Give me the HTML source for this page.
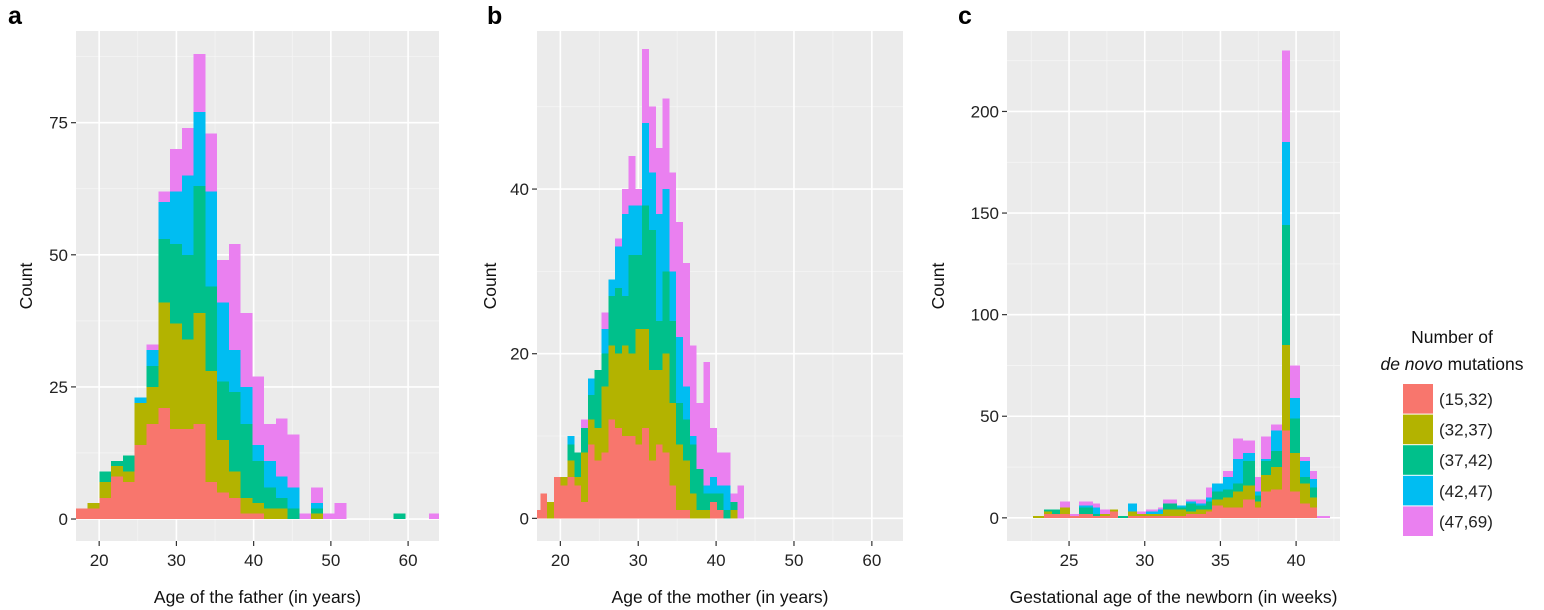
<!DOCTYPE html>
<html><head><meta charset="utf-8"><style>
html,body{margin:0;padding:0;background:#fff;}
svg{display:block;font-family:"Liberation Sans",Arial,sans-serif;}
</style></head><body>
<svg id="chart" width="1544" height="610" viewBox="0 0 1544 610" xmlns="http://www.w3.org/2000/svg">
<g id="root"></g>
</svg>
<script>
// ---- Panel a: father age (31 bins) ----
const aBinStart = 16.99, aBinWidth = 1.523;
const aRed   = [2,2,4,8,7,14,18,21,17,17,18,7,5,4,1,1,0,0,0,0,0,0,0,0,0,0,0,0,0,0,0];
const aOlive = [0,1,3,2,2,8,7,20,20,17,21,21,10,5,3,2,2,2,0,0,1,0,0,0,0,0,0,0,0,0,0];
const aGreen = [0,0,2,1,3,0,4,12,15,16,24,16,11,15,14,8,4,2,2,0,1,0,0,0,0,0,0,1,0,0,0];
const aBlue  = [0,0,0,0,0,1,3,7,10,15,14,18,15,8,7,3,5,4,4,0,1,0,0,0,0,0,0,0,0,0,0];
const aPink  = [0,0,0,0,0,0,1,2,8,9,11,11,8,20,14,13,7,11,10,1,3,1,3,0,0,0,0,0,0,0,1];
// ---- Panel b: mother age (31 bins) ----
const bBinStart = 16.56, bBinWidth = 0.872;
const bRed   = [1,3,0,5,4,5,4,2,9,7,8,12,11,10,10,9,11,7,9,8,4,1,1,0,0,0,2,1,0,0,0];
const bOlive = [0,0,2,0,1,2,1,6,3,4,8,9,9,11,10,14,12,11,9,12,10,8,6,3,1,1,0,0,0,1,0];
const bGreen = [0,0,0,0,0,2,3,3,3,7,4,6,8,6,12,9,15,17,6,10,10,5,5,6,5,2,1,2,1,1,0];
const bBlue  = [0,0,0,0,0,1,0,0,2,0,3,2,5,10,6,6,10,7,13,10,6,8,4,1,0,1,2,1,3,0,0];
const bPink  = [0,0,0,0,0,0,0,1,0,0,2,0,1,3,6,2,9,8,8,11,12,14,15,11,8,15,6,4,4,1,4];
// ---- Panel c: gestational age (variable bins, weeks) ----
const cEdges = [22.63,23.36,23.88,24.41,25.07,25.67,26.59,27.05,27.72,28.24,28.90,29.50,30.09,30.89,31.22,32.14,32.74,33.39,34.05,34.45,35.17,35.84,36.50,37.29,37.69,38.35,39.07,39.60,40.26,40.92,41.39,42.25];
const cRed   = [0,2,2,2,1,2,1,1,3,0,1,1,1,1,1,1,2,2,3,6,5,5,9,5,13,14,43,13,7,5,0];
const cOlive = [1,1,0,3,0,0,0,1,1,0,2,1,1,1,3,3,1,2,1,3,5,8,7,3,8,11,42,19,10,5,0];
const cGreen = [0,1,2,0,0,3,1,0,0,1,0,0,0,0,3,1,4,2,4,4,4,4,12,3,7,8,59,17,3,5,0];
const cBlue  = [0,0,0,0,0,1,3,0,0,0,4,0,1,2,0,1,1,1,2,4,6,12,4,2,1,10,41,10,8,4,0];
const cPink  = [0,0,0,3,1,2,2,2,0,0,0,1,1,1,2,0,1,2,5,0,3,10,6,7,11,3,45,16,2,4,1];
// ---- Axes ----
const abTicksX = [20,30,40,50,60];
const aTicksY = [0,25,50,75];
const bTicksY = [0,20,40];
const cTicksX = [25,30,35,40];
const cTicksY = [0,50,100,150,200];
const legendLabels = ["(15,32)","(32,37)","(37,42)","(42,47)","(47,69)"];
const colors = ["#F8766D","#B3B300","#00C08B","#00BDF2","#EA80F0"];

const NS = "http://www.w3.org/2000/svg";
const root = document.getElementById('root');
function el(tag, attrs, parent, text){
  const e = document.createElementNS(NS, tag);
  for (const k in attrs) e.setAttribute(k, attrs[k]);
  if (text !== undefined) e.textContent = text;
  (parent||root).appendChild(e);
  return e;
}
function panel(cfg){
  const g = el('g', {});
  
  
  const sx = v => cfg.x0 + (v - cfg.xd[0]) / (cfg.xd[1]-cfg.xd[0]) * (cfg.x1-cfg.x0);
  const sy = v => cfg.y1 - (v - cfg.yd[0]) / (cfg.yd[1]-cfg.yd[0]) * (cfg.y1-cfg.y0);
  const bg = el('rect', {x:cfg.x0, y:cfg.y0, width:cfg.x1-cfg.x0, height:cfg.y1-cfg.y0, fill:'#EBEBEB'}, g);
  
  
  // minor grid
  const mx = [], my = [];
  for (let i=0;i<cfg.tx.length-1;i++) mx.push((cfg.tx[i]+cfg.tx[i+1])/2);
  if (cfg.extraMinorX) cfg.extraMinorX.forEach(v=>mx.push(v));
  for (let i=0;i<cfg.ty.length;i++){ const st = cfg.ty[1]-cfg.ty[0]; my.push(cfg.ty[i]+st/2); }
  mx.forEach(v=>{ const X=sx(v); if(X>cfg.x0&&X<cfg.x1){ const l=el('line',{x1:X,x2:X,y1:cfg.y0,y2:cfg.y1,stroke:'#F5F5F5','stroke-width':0.8},g);
     }});
  my.forEach(v=>{ const Y=sy(v); if(Y>cfg.y0&&Y<cfg.y1){ const l=el('line',{x1:cfg.x0,x2:cfg.x1,y1:Y,y2:Y,stroke:'#F5F5F5','stroke-width':0.8},g);
     }});
  cfg.tx.forEach(v=>{ const X=sx(v); const l=el('line',{x1:X,x2:X,y1:cfg.y0,y2:cfg.y1,stroke:'#fff','stroke-width':1.6},g);
     });
  cfg.ty.forEach(v=>{ const Y=sy(v); const l=el('line',{x1:cfg.x0,x2:cfg.x1,y1:Y,y2:Y,stroke:'#fff','stroke-width':1.6},g);
     });
  // bars
  const cg = el('g', {'clip-path':'url(#clip-'+cfg.id+')', 'shape-rendering':'crispEdges'}, g);
  
  
  const cp = el('clipPath', {id:'clip-'+cfg.id}, g);
  el('rect',{x:cfg.x0,y:cfg.y0,width:cfg.x1-cfg.x0,height:cfg.y1-cfg.y0},cp);
  const n = cfg.series[0].length;
  for (let i=0;i<n;i++){
    const left = cfg.edges[i], right = cfg.edges[i+1];
    let cum = 0;
    for (let s=0;s<cfg.series.length;s++){
      const v = cfg.series[s][i];
      if (v<=0) continue;
      const yTop = sy(cum+v), yBot = sy(cum);
      const r = el('rect',{x:sx(left), y:yTop, width:sx(right)-sx(left), height:yBot-yTop, fill:colors[s]}, cg);
      
      
      cum += v;
    }
  }
  // ticks + labels
  cfg.ty.forEach(v=>{ const Y=sy(v);
    const t=el('line',{x1:cfg.x0-5,x2:cfg.x0,y1:Y,y2:Y,stroke:'#333','stroke-width':1.2},g);
     
    const tl=el('text',{x:cfg.x0-8,y:Y+6,'text-anchor':'end','font-size':17,fill:'#222'},g,String(v));
     
  });
  cfg.tx.forEach(v=>{ const X=sx(v);
    const t=el('line',{x1:X,x2:X,y1:cfg.y1,y2:cfg.y1+5,stroke:'#333','stroke-width':1.2},g);
     
    const tl=el('text',{x:X,y:cfg.y1+25,'text-anchor':'middle','font-size':17,fill:'#222'},g,String(v));
     
  });
  const xt = el('text',{x:(cfg.x0+cfg.x1)/2,y:603,'text-anchor':'middle','font-size':17.5,fill:'#111'},g,cfg.xtitle);
   
  const yt = el('text',{x:0,y:0,'text-anchor':'middle','font-size':17.5,fill:'#111',transform:'translate('+cfg.ytx+',286) rotate(-90)'},g,'Count');
   
  const pl = el('text',{x:cfg.lx,y:24,'font-size':25,'font-weight':'bold',fill:'#000'},g,cfg.letter);
   
}
function edgesFrom(start,width,n){ const e=[]; for(let i=0;i<=n;i++) e.push(start+i*width); return e; }

panel({id:'a',name:'panel-a-father-age',letter:'a',lx:8,x0:76,x1:439,y0:31,y1:541,xd:[17,64],yd:[-4.16,92.35],
  tx:abTicksX,ty:aTicksY,extraMinorX:[],edges:edgesFrom(aBinStart,aBinWidth,aRed.length),
  series:[aRed,aOlive,aGreen,aBlue,aPink],xtitle:'Age of the father (in years)',ytx:32});
panel({id:'b',name:'panel-b-mother-age',letter:'b',lx:487,x0:537,x1:903,y0:31,y1:541,xd:[17,64],yd:[-2.75,59.2],
  tx:abTicksX,ty:bTicksY,extraMinorX:[],edges:edgesFrom(bBinStart,bBinWidth,bRed.length),
  series:[bRed,bOlive,bGreen,bBlue,bPink],xtitle:'Age of the mother (in years)',ytx:496});
panel({id:'c',name:'panel-c-gestational-age',letter:'c',lx:958,x0:1007,x1:1340,y0:31,y1:541,xd:[20.9,42.9],yd:[-11.4,239.6],
  tx:cTicksX,ty:cTicksY,extraMinorX:[22.5,42.5],edges:cEdges,
  series:[cRed,cOlive,cGreen,cBlue,cPink],xtitle:'Gestational age of the newborn (in weeks)',ytx:944});

// legend
const lg = el('g',{});


const lt1 = el('text',{x:1452,y:343,'text-anchor':'middle','font-size':17.5,fill:'#111'},lg,'Number of');
 
const lt2 = el('text',{x:1452,y:370,'text-anchor':'middle','font-size':17.5,fill:'#111'},lg);
 
el('tspan',{'font-style':'italic'},lt2,'de novo');
el('tspan',{},lt2,' mutations');
legendLabels.forEach((lab,i)=>{
  const y = 384 + i*30.6;
  const sw = el('rect',{x:1403,y:y,width:30,height:29.6,fill:colors[i]},lg);
   
  const tx = el('text',{x:1439,y:y+21,'font-size':17,fill:'#222'},lg,lab);
   
});
</script>
</body></html>
